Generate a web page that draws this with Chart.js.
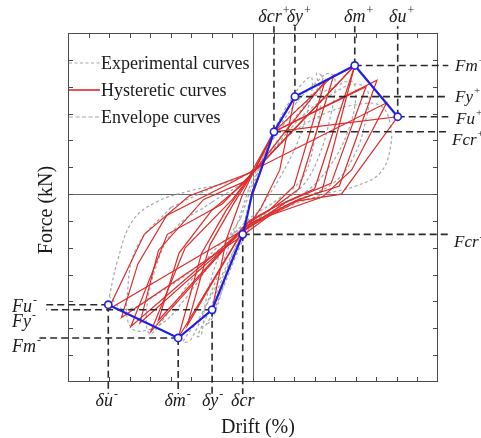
<!DOCTYPE html>
<html>
<head>
<meta charset="utf-8">
<script src="https://cdn.jsdelivr.net/npm/chart.js@4.4.1/dist/chart.umd.min.js"></script>
<style>
  html, body { margin: 0; padding: 0; background: #ffffff; }
  #wrap { width: 481px; height: 438px; }
</style>
</head>
<body>
<div id="wrap"><canvas id="c" width="481" height="438"></canvas></div>
<script>
// Axis extents (drift units, force units)
const driftRange = [-9, 9];
const forceRange = [-7, 6];

// Characteristic points of the skeleton curve: cracking, yield, peak, ultimate
const pointNames = ['cr', 'y', 'm', 'u'];
const posDrift = [1.02, 2.04, 4.95, 7.04];
const posForce = [2.32, 3.63, 4.79, 2.88];
const negDrift = [-0.50, -1.99, -3.64, -7.04];
const negForce = [-1.50, -4.31, -5.36, -4.12];

// Skeleton segment through the origin between the two cracking points
const originDrift = [-0.28, -0.03, 0.29];
const originForce = [-0.81, 0.06, 0.69];

// Idealised hysteretic loops (drift, force)
const hystLoop1 = [[0, 0], [0.3, 0.7], [1.02, 2.32], [2.04, 3.63], [1.3, 0.9], [0.4, -0.5], [-0.5, -1.5], [-1.99, -4.31], [-1.3, -1.7], [-0.5, 0.0], [0.05, 0.85]];
const hystLoop2 = [[0.05, 0.85], [1.02, 2.32], [3.93, 4.43], [2.23, 0.19], [1.2, -0.4], [-0.3, -1.1], [-3.64, -5.36], [-2.5, -2.2], [-1.3, -0.6], [0.05, 0.85]];
const hystLoop3 = [[0.05, 0.85], [4.95, 4.79], [3.35, 0.1], [1.8, -0.35], [-0.4, -1.2], [-4.97, -5.12], [-3.3, -2.0], [-1.0, -0.2], [0.05, 0.85]];
const hystLoop4 = [[0.05, 0.85], [1.02, 2.32], [6.03, 4.24], [4.2, 0.3], [2.2, -0.2], [-0.3, -1.2], [-5.94, -4.93], [-4.17, -1.5], [-1.5, -0.37], [0.05, 0.85]];
const hystLoop5 = [[0.05, 0.85], [1.02, 2.32], [7.04, 2.88], [4.3, 0.0], [2.2, -0.25], [-0.4, -1.3], [-7.04, -4.3], [-5.29, -1.5], [-3.11, -0.07], [0.05, 0.85]];
const hystLoop6 = [[-0.6, 0.3], [1.26, 1.81], [4.95, 4.79], [3.0, 0.2], [1.0, -0.5], [-0.2, -1.0], [-4.6, -4.7], [-3.6, -2.2], [-2.0, -0.6], [-0.6, 0.3]];
const hystLoop7 = [[0.05, 0.85], [3.5, 4.2], [2.0, 0.3], [0.8, -0.6], [-0.3, -1.1], [-3.2, -4.9], [-2.1, -1.9], [-0.9, -0.3], [0.05, 0.85]];
const hystLoop8 = [[-0.3, 0.5], [1.02, 2.32], [5.5, 4.0], [3.8, 0.4], [1.6, -0.3], [-0.5, -1.4], [-5.5, -4.8], [-4.6, -2.1], [-2.4, -0.2], [-0.3, 0.5]];
const hystLoop9 = [[0.3, 1.0], [6.5, 3.4], [4.8, 0.9], [3.4, -0.1], [0.8, -0.8], [-0.6, -1.6], [-6.4, -4.6], [-5.6, -2.6], [-4.2, -0.8], [-1.0, 0.45], [0.3, 1.0]];
const hystLoops = [hystLoop1, hystLoop2, hystLoop3, hystLoop4, hystLoop5, hystLoop6, hystLoop7, hystLoop8, hystLoop9];

// Measured loops (drift, force)
const expLoop1 = [[-0.5, -1.3], [0.0, 0.2], [0.6, 1.6], [1.3, 2.8], [2.0, 3.7], [2.5, 4.2], [2.85, 4.35], [2.8, 3.6], [2.2, 2.0], [1.3, 0.6], [0.3, -0.6], [-0.6, -1.9], [-1.4, -3.4], [-2.0, -4.5], [-2.3, -4.9], [-1.9, -4.5], [-1.2, -2.8], [-0.5, -1.3]];
const expLoop2 = [[-0.6, -0.9], [0.1, 0.6], [0.9, 2.0], [2.0, 3.3], [3.0, 4.1], [3.7, 4.5], [4.0, 4.2], [3.8, 3.0], [3.2, 1.4], [2.4, 0.3], [1.0, -0.5], [-0.4, -1.4], [-1.3, -2.8], [-2.1, -4.3], [-2.7, -5.3], [-2.5, -5.2], [-2.3, -4.0], [-1.6, -2.2], [-0.6, -0.9]];
const expLoop3 = [[-2.0, -0.3], [-0.4, 0.5], [0.9, 1.6], [2.4, 2.9], [3.8, 3.7], [5.0, 4.1], [5.6, 3.8], [5.5, 2.8], [4.9, 1.4], [3.9, 0.4], [2.2, -0.2], [0.3, -0.9], [-1.5, -1.8], [-3.0, -3.2], [-4.3, -4.6], [-5.0, -5.2], [-5.2, -4.6], [-4.8, -2.9], [-3.8, -1.3], [-2.0, -0.3]];
const expLoop4 = [[-6.99, -3.82], [-6.6, -2.51], [-5.87, -1.01], [-4.71, -0.30], [-3.11, 0.11], [-1.17, 0.45], [0.2, 1.0], [1.6, 2.1], [3.5, 3.0], [5.2, 3.35], [6.2, 3.3], [6.65, 2.7], [6.7, 1.8], [6.2, 0.8], [5.0, 0.3], [3.5, 0.0], [1.6, -0.5], [-0.2, -1.2], [-2.2, -2.4], [-4.4, -3.6], [-6.2, -4.3], [-6.99, -3.82]];
const expLoop5 = [[-4.0, -0.5], [-1.8, 0.3], [0.0, 0.9], [1.2, 2.0], [2.6, 3.4], [3.4, 4.3], [3.1, 4.5], [3.3, 3.6], [3.0, 2.0], [2.4, 0.6], [1.2, -0.2], [-0.3, -1.0], [-1.8, -2.3], [-3.3, -3.9], [-4.6, -4.9], [-5.9, -5.0], [-6.1, -3.6], [-5.6, -1.9], [-4.0, -0.5]];
const expLoop6 = [[-0.2, 0.2], [0.5, 1.4], [1.5, 2.6], [2.7, 3.5], [4.0, 4.0], [4.8, 4.2], [5.0, 3.6], [4.6, 2.3], [3.7, 1.0], [2.6, 0.1], [1.0, -0.6], [-0.5, -1.6], [-1.5, -3.0], [-2.6, -4.6], [-3.4, -5.5], [-3.0, -5.4], [-2.0, -3.6], [-1.0, -1.6], [-0.2, 0.2]];
const expLoops = [expLoop1, expLoop2, expLoop3, expLoop4, expLoop5, expLoop6];

const toXY = pts => pts.map(p => ({ x: p[0], y: p[1] }));

// Skeleton (envelope) curve: negative branch from ultimate to cracking, origin segment, positive branch
const envDrift = [...negDrift].reverse().concat(originDrift, posDrift);
const envForce = [...negForce].reverse().concat(originForce, posForce);
const envMarked = envDrift.map((_, i) => (i < 4 || i >= 4 + originDrift.length) ? 1 : 0);
const envelopeData = envDrift.map((d, i) => ({ x: d, y: envForce[i] }));

// Dashed guide lines from each characteristic point out to its label
const guideTop = 6.25, guideBottom = -7.45, guideRight = 9.5;
const guideLeft = [-10.05, -10.05, -10.39, -10.24];
const guides = [];
posDrift.forEach((d, i) => {
  guides.push([{ x: d, y: posForce[i] }, { x: d, y: guideTop }]);
  guides.push([{ x: d, y: posForce[i] }, { x: guideRight, y: posForce[i] }]);
});
negDrift.forEach((d, i) => {
  guides.push([{ x: d, y: negForce[i] }, { x: d, y: guideBottom }]);
  if (i === 0) guides.push([{ x: d, y: negForce[i] }, { x: guideRight, y: negForce[i] }]);
  else guides.push([{ x: d, y: negForce[i] }, { x: guideLeft[i], y: negForce[i] }]);
});

const datasets = [];
expLoops.forEach(loop => datasets.push({
  data: toXY(loop), showLine: true, borderColor: '#a0a9a9', borderWidth: 1.2,
  borderDash: [3, 2.5], tension: 0.4, pointRadius: 0, order: 5
}));
hystLoops.forEach(loop => datasets.push({
  data: toXY(loop), showLine: true, borderColor: '#e02a2a', borderWidth: 1.2,
  tension: 0, pointRadius: 0, order: 4
}));
guides.forEach(g => datasets.push({
  data: g, showLine: true, borderColor: '#2a2a2a', borderWidth: 1.6,
  borderDash: [7, 4], pointRadius: 0, clip: false, order: 3
}));
datasets.push({
  data: envelopeData, showLine: true, borderColor: '#1f1fe6', borderWidth: 2.2,
  tension: 0, pointRadius: envMarked.map(m => m ? 3.6 : 0),
  pointBackgroundColor: '#ffffff', pointBorderColor: '#1f1fe6', pointBorderWidth: 1.6,
  clip: false, order: 1
});

const SERIF = '"Liberation Serif", "Times New Roman", serif';

function labelWithSup(ctx, main, sup, x, baseline, align, size) {
  ctx.font = `italic ${size}px ${SERIF}`;
  const w = ctx.measureText(main).width;
  const left = align === 'center' ? x - w / 2 : (align === 'right' ? x - w : x);
  ctx.textAlign = 'left';
  ctx.textBaseline = 'alphabetic';
  ctx.fillText(main, left, baseline);
  if (sup) {
    ctx.font = `${Math.round(size * 0.65)}px ${SERIF}`;
    ctx.fillText(sup, left + w + 1, baseline - size * 0.45);
  }
}

const framePlugin = {
  id: 'framePlugin',
  beforeDatasetsDraw(chart) {
    const { ctx, chartArea: a, scales: { x, y } } = chart;
    ctx.save();
    const line = (x1, y1, x2, y2) => { ctx.beginPath(); ctx.moveTo(x1, y1); ctx.lineTo(x2, y2); ctx.stroke(); };
    // zero axes
    ctx.strokeStyle = '#666666';
    ctx.lineWidth = 1;
    const x0 = Math.round(x.getPixelForValue(0)) + 0.5;
    const y0 = Math.round(y.getPixelForValue(0)) + 0.5;
    line(x0, a.top, x0, a.bottom);
    line(a.left, y0, a.right, y0);
    // frame
    ctx.strokeStyle = '#4a4a4a';
    ctx.strokeRect(Math.round(a.left) + 0.5, Math.round(a.top) + 0.5, Math.round(a.width) - 1, Math.round(a.height) - 1);
    // inward ticks on all four sides
    const tl = 5;
    for (let v = driftRange[0] + 1; v < driftRange[1]; v++) {
      const px = Math.round(x.getPixelForValue(v)) + 0.5;
      line(px, a.bottom, px, a.bottom - tl);
      line(px, a.top, px, a.top + tl);
    }
    for (let v = forceRange[0] + 1; v < forceRange[1]; v++) {
      const py = Math.round(y.getPixelForValue(v)) + 0.5;
      line(a.left, py, a.left + tl, py);
      line(a.right, py, a.right - tl, py);
    }
    ctx.restore();
  },
  afterDatasetsDraw(chart) {
    const { ctx, chartArea: a, scales: { x, y } } = chart;
    ctx.save();
    ctx.fillStyle = '#1a1a1a';

    // axis titles
    ctx.font = `20px ${SERIF}`;
    ctx.textAlign = 'center';
    ctx.textBaseline = 'middle';
    ctx.fillText('Drift (%)', (a.left + a.right) / 2 + 5, 428);
    ctx.save();
    ctx.translate(47, 210);
    ctx.rotate(-Math.PI / 2);
    ctx.fillText('Force (kN)', 0, 0);
    ctx.restore();

    // legend
    const legend = [
      { text: 'Experimental curves', color: '#a0a9a9', dash: [3, 2.5], yPos: 63 },
      { text: 'Hysteretic curves', color: '#e02a2a', dash: [], yPos: 90 },
      { text: 'Envelope curves', color: '#a0a9a9', dash: [4, 2.5], yPos: 117 }
    ];
    legend.forEach(item => {
      ctx.strokeStyle = item.color;
      ctx.lineWidth = item.dash.length ? 1.2 : 1.6;
      ctx.setLineDash(item.dash);
      ctx.beginPath();
      ctx.moveTo(a.left + 1, item.yPos);
      ctx.lineTo(a.left + 32, item.yPos);
      ctx.stroke();
      ctx.setLineDash([]);
      ctx.font = `18px ${SERIF}`;
      ctx.textAlign = 'left';
      ctx.textBaseline = 'middle';
      ctx.fillStyle = '#1a1a1a';
      ctx.fillText(item.text, a.left + 33, item.yPos + 1);
    });

    // characteristic drift labels (top: positive, bottom: negative)
    const size = 18;
    const topShift = [-4, 0, 0, 0];
    posDrift.forEach((d, i) => {
      labelWithSup(ctx, '\u03b4' + pointNames[i], '+', x.getPixelForValue(d) + topShift[i], 22, 'center', size);
    });
    const botShift = [0, -2, -3, -4];
    const botSup = ['', '-', '-', '-'];
    negDrift.forEach((d, i) => {
      labelWithSup(ctx, '\u03b4' + pointNames[i], botSup[i], x.getPixelForValue(d) + botShift[i], 406, 'center', size);
    });

    // characteristic force labels (right: positive and negative cracking, left: negative)
    const rSize = 17;
    const rightX = a.right + 17;
    const rightDrop = [13, 5, 6, 7];
    const rightLeft = [-3, 0, 0, 1];
    posForce.forEach((f, i) => {
      labelWithSup(ctx, 'F' + pointNames[i], '+', rightX + rightLeft[i], y.getPixelForValue(f) + rightDrop[i], 'left', rSize);
    });
    labelWithSup(ctx, 'F' + pointNames[0], '-', rightX - 1, y.getPixelForValue(negForce[0]) + 13, 'left', rSize);
    const leftDrop = [0, 17, 14, 7];
    for (let i = 1; i < 4; i++) {
      labelWithSup(ctx, 'F' + pointNames[i], '-', 12, y.getPixelForValue(negForce[i]) + leftDrop[i], 'left', size);
    }
    ctx.restore();
  }
};

new Chart(document.getElementById('c'), {
  type: 'scatter',
  data: { datasets },
  options: {
    responsive: false,
    animation: false,
    layout: { padding: { left: 68, right: 43, top: 33, bottom: 56 } },
    plugins: { legend: { display: false }, tooltip: { enabled: false } },
    scales: {
      x: { type: 'linear', min: driftRange[0], max: driftRange[1], display: false },
      y: { type: 'linear', min: forceRange[0], max: forceRange[1], display: false }
    }
  },
  plugins: [framePlugin]
});
</script>
</body>
</html>
